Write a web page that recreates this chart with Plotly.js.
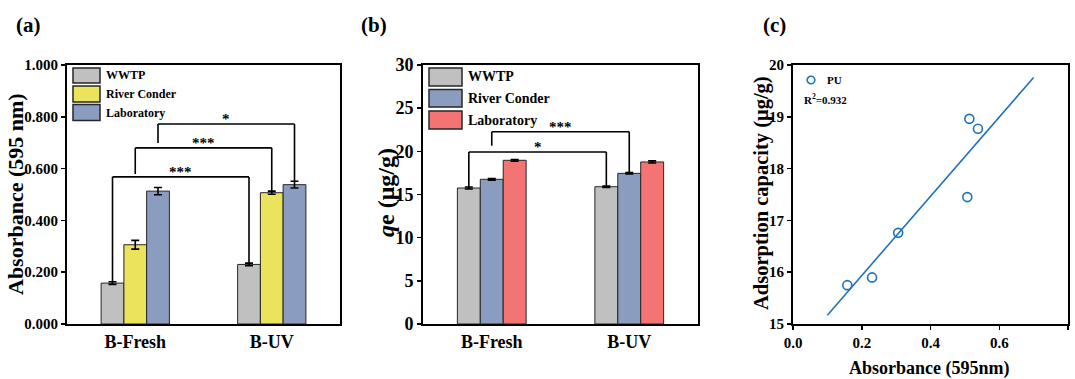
<!DOCTYPE html>
<html>
<head>
<meta charset="utf-8">
<script src="https://cdn.plot.ly/plotly-3.0.1.min.js"></script>
<style>
  html, body { margin: 0; padding: 0; background: #ffffff; }
  #chart { width: 1075px; height: 379px; }
</style>
</head>
<body>
<div id="chart"></div>
<script>
// ---- data ----
const categories = ['B-Fresh', 'B-UV'];

// (a) absorbance at 595 nm
const absWWTP = [0.158, 0.230];
const absRiver = [0.306, 0.507];
const absLab = [0.513, 0.538];
const absErrWWTP = [0.005, 0.005];
const absErrRiver = [0.017, 0.006];
const absErrLab = [0.014, 0.013];

// (b) adsorption capacity qe (µg/g)
const qeWWTP = [15.75, 15.90];
const qeRiver = [16.76, 17.45];
const qeLab = [18.96, 18.77];
const qeErrWWTP = [0.12, 0.08];
const qeErrRiver = [0.10, 0.08];
const qeErrLab = [0.10, 0.12];

// (c) linear fit line of qe against absorbance
const fitX = [0.10, 0.70];
const fitY = [15.17, 19.76];
const fitR2 = '0.932';

// significance brackets: [series index, top of bracket, left leg end (null = top of error bar), label]
const bracketsA = [
  [0, 0.568, null, '***'],
  [1, 0.680, 0.579, '***'],
  [2, 0.772, 0.699, '*']
];
const bracketsB = [
  [0, 19.92, null, '*'],
  [1, 22.27, 20.65, '***']
];

// ---- styling ----
const W = 1075, H = 379;
const FONT = 'Liberation Serif, Times New Roman, serif';
const BLUE_PT = '#1f72b8';
const COLORS_A = ['#c0c0c0', '#ece35c', '#8a9cc0'];
const COLORS_B = ['#c0c0c0', '#8a9cc0', '#f47474'];
const BARGAP = 0.5;
const BAR_W = (1 - BARGAP) / 3;

const px = x => x / W;
const py = y => 1 - y / H;
const catIdx = categories.map((_, i) => i);

function barTrace(name, y, err, color, xa, ya) {
  return {
    type: 'bar', name: name, x: catIdx, y: y, xaxis: xa, yaxis: ya,
    marker: { color: color, line: { color: '#262626', width: 1 } },
    error_y: { type: 'data', array: err, visible: true, color: '#000', thickness: 1.6, width: 4 },
    hoverinfo: 'skip'
  };
}

const seriesA = [
  ['WWTP', absWWTP, absErrWWTP],
  ['River Conder', absRiver, absErrRiver],
  ['Laboratory', absLab, absErrLab]
];
const seriesB = [
  ['WWTP', qeWWTP, qeErrWWTP],
  ['River Conder', qeRiver, qeErrRiver],
  ['Laboratory', qeLab, qeErrLab]
];

const traces = [];
seriesA.forEach((s, i) => traces.push(barTrace(s[0], s[1], s[2], COLORS_A[i], 'x', 'y')));
seriesB.forEach((s, i) => traces.push(barTrace(s[0], s[1], s[2], COLORS_B[i], 'x2', 'y2')));

// scatter points of panel (c) pair each absorbance with its qe
const puAbs = [].concat(absWWTP, absRiver, absLab);
const puQe = [].concat(qeWWTP, qeRiver, qeLab);
traces.push({
  type: 'scatter', mode: 'lines', x: fitX, y: fitY, xaxis: 'x3', yaxis: 'y3',
  line: { color: BLUE_PT, width: 1.6 }, hoverinfo: 'skip', name: 'fit'
});
traces.push({
  type: 'scatter', mode: 'markers', x: puAbs, y: puQe, xaxis: 'x3', yaxis: 'y3',
  marker: { symbol: 'circle-open', size: 9, color: BLUE_PT, line: { width: 1.6, color: BLUE_PT } },
  hoverinfo: 'skip', name: 'PU'
});

// ---- brackets ----
const shapes = [];
const annotations = [];

function addBrackets(list, series, xa, ya) {
  list.forEach(b => {
    const si = b[0];
    const xL = catIdx[0] + (si - 1) * BAR_W;
    const xR = catIdx[1] + (si - 1) * BAR_W;
    const yTop = b[1];
    const yL = b[2] !== null ? b[2] : series[si][1][0] + series[si][2][0];
    const yR = series[si][1][1] + series[si][2][1];
    const line = { color: '#000', width: 1.6 };
    shapes.push({ type: 'line', xref: xa, yref: ya, x0: xL, x1: xL, y0: yL, y1: yTop, line: line });
    shapes.push({ type: 'line', xref: xa, yref: ya, x0: xL, x1: xR, y0: yTop, y1: yTop, line: line });
    shapes.push({ type: 'line', xref: xa, yref: ya, x0: xR, x1: xR, y0: yR, y1: yTop, line: line });
    annotations.push({
      xref: xa, yref: ya, x: (xL + xR) / 2, y: yTop, text: b[3], showarrow: false,
      yanchor: 'middle', yshift: 5, font: { size: 15, family: FONT, weight: 'bold', color: '#000' }
    });
  });
}
addBrackets(bracketsA, seriesA, 'x', 'y');
addBrackets(bracketsB, seriesB, 'x2', 'y2');

// ---- legends drawn as boxes and labels ----
function boxLegend(series, colors, x0, x1, rows, fontSize) {
  rows.forEach((r, i) => {
    shapes.push({
      type: 'rect', xref: 'paper', yref: 'paper',
      x0: px(x0), x1: px(x1), y0: py(r[1]), y1: py(r[0]),
      fillcolor: colors[i], line: { color: '#262626', width: 1.5 }
    });
    annotations.push({
      xref: 'paper', yref: 'paper', x: px(x1 + 4), y: py((r[0] + r[1]) / 2),
      xanchor: 'left', yanchor: 'middle', showarrow: false, text: series[i][0],
      font: { size: fontSize, family: FONT, weight: 'bold', color: '#000' }
    });
  });
}
boxLegend(seriesA, COLORS_A, 73, 100, [[68, 83], [86, 102], [104.5, 120.5]], 12);
boxLegend(seriesB, COLORS_B, 429, 462, [[68, 86], [89.5, 107], [111, 129]], 14);

// panel (c) legend
shapes.push({
  type: 'circle', xref: 'paper', yref: 'paper', xsizemode: 'pixel', ysizemode: 'pixel',
  xanchor: px(811), yanchor: py(80), x0: -3.8, x1: 3.8, y0: -3.8, y1: 3.8,
  line: { color: BLUE_PT, width: 1.6 }, fillcolor: 'rgba(0,0,0,0)'
});
annotations.push({
  xref: 'paper', yref: 'paper', x: px(825), y: py(80), xanchor: 'left', yanchor: 'middle',
  showarrow: false, text: 'PU', font: { size: 11, family: FONT, weight: 'bold', color: '#000' }
});
annotations.push({
  xref: 'paper', yref: 'paper', x: px(802), y: py(99), xanchor: 'left', yanchor: 'middle',
  showarrow: false, text: 'R<sup>2</sup>=' + fitR2,
  font: { size: 11, family: FONT, weight: 'bold', color: '#000' }
});

// panel letters and axis titles
function label(text, x, y, size, angle) {
  annotations.push({
    xref: 'paper', yref: 'paper', x: px(x), y: py(y), xanchor: 'center', yanchor: 'middle',
    showarrow: false, text: text, textangle: angle || 0,
    font: { size: size, family: FONT, weight: 'bold', color: '#000' }
  });
}
label('(a)', 28, 25, 21);
label('(b)', 374, 25, 21);
label('(c)', 774, 25, 21);
label('Absorbance (595 nm)', 15, 194, 22, -90);
label('<i>q</i>e (μg/g)', 386, 193, 24, -90);
label('Adsorption capacity (μg/g)', 761, 193, 20.5, -90);
label('Absorbance (595nm)', 929, 368, 18);

// ---- axes ----
const yTop = py(65), yBot = py(324);
function axisBase(extra) {
  return Object.assign({
    showline: true, mirror: true, linecolor: '#000', linewidth: 2,
    showgrid: false, zeroline: false, ticks: 'outside', ticklen: 4, tickwidth: 1.5, tickcolor: '#000',
    fixedrange: true
  }, extra);
}
const catAxis = (domain, anchor) => axisBase({
  domain: domain, anchor: anchor, range: [-0.5, 1.5], tickmode: 'array',
  tickvals: catIdx, ticktext: categories, ticks: '',
  tickfont: { size: 18, family: FONT, weight: 'bold', color: '#000' }
});

const layout = {
  width: W, height: H,
  margin: { l: 0, r: 0, t: 0, b: 0 },
  paper_bgcolor: '#fff', plot_bgcolor: '#fff',
  font: { family: FONT, weight: 'bold', color: '#000' },
  showlegend: false,
  barmode: 'group', bargap: BARGAP, bargroupgap: 0,
  xaxis: catAxis([px(67), px(340)], 'y'),
  yaxis: axisBase({
    domain: [yBot, yTop], anchor: 'x', range: [0, 1], tickmode: 'array',
    tickvals: [0, 0.2, 0.4, 0.6, 0.8, 1.0], tickformat: '.3f',
    tickfont: { size: 15, family: FONT, weight: 'bold', color: '#000' }
  }),
  xaxis2: catAxis([px(423), px(698)], 'y2'),
  yaxis2: axisBase({
    domain: [yBot, yTop], anchor: 'x2', range: [0, 30], dtick: 5, tick0: 0,
    tickfont: { size: 18, family: FONT, weight: 'bold', color: '#000' }
  }),
  xaxis3: axisBase({
    domain: [px(793), px(1068)], anchor: 'y3', range: [0, 0.8], dtick: 0.2, tick0: 0,
    tickformat: '.1f',
    tickfont: { size: 15, family: FONT, weight: 'bold', color: '#000' }
  }),
  yaxis3: axisBase({
    domain: [yBot, yTop], anchor: 'x3', range: [15, 20], dtick: 1, tick0: 15,
    tickfont: { size: 15, family: FONT, weight: 'bold', color: '#000' }
  }),
  shapes: shapes,
  annotations: annotations
};

Plotly.newPlot('chart', traces, layout, { displayModeBar: false, staticPlot: true });
</script>
</body>
</html>
